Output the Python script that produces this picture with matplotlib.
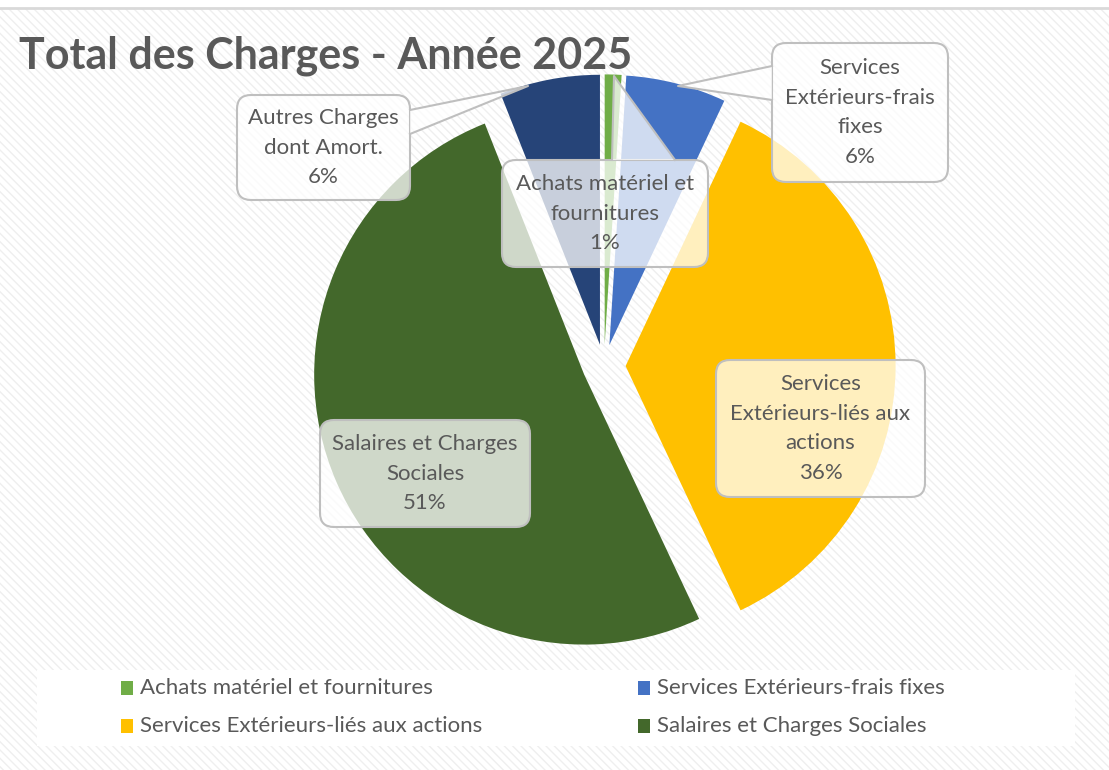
import matplotlib.pyplot as plt
from matplotlib.patches import FancyBboxPatch, Polygon, Rectangle

# data
categories = ['Achats matériel et fournitures', 'Services Extérieurs-frais fixes',
              'Services Extérieurs-liés aux actions', 'Salaires et Charges Sociales',
              'Autres Charges dont Amort.']
values = [1, 6, 36, 51, 6]  # percent of total
label_lines = ['Achats matériel et\nfournitures', 'Services\nExtérieurs-frais\nfixes',
               'Services\nExtérieurs-liés aux\nactions', 'Salaires et Charges\nSociales',
               'Autres Charges\ndont Amort.']
legend_labels = categories[:4]  # the fifth entry is cut off in the original

colors = ['#70AD47', '#4472C4', '#FFC000', '#43682B', '#264478']
TXT = '#595959'
EDGE = '#bfbfbf'

plt.rcParams['font.family'] = ['Lato', 'DejaVu Sans']

W, H = 1109, 770
fig = plt.figure(figsize=(W / 100, H / 100), dpi=100)

# background with faint diagonal stripes
bg = fig.add_axes([0, 0, 1, 1], zorder=0)
bg.set_xlim(0, W); bg.set_ylim(H, 0); bg.axis('off')
bg.add_patch(Rectangle((0, 9), W, H - 9, facecolor='white', edgecolor='#efefef',
                       hatch='\\\\\\\\', linewidth=0))
bg.plot([0, W], [8, 8], color='#d9d9d9', lw=2)
bg.add_patch(Rectangle((37, 670), 1038, 76, facecolor='white', edgecolor='none'))

# pie, centre and radius in pixels
cx, cy, R = 604, 366, 270
pad = 1.25
ax = fig.add_axes([(cx - pad * R) / W, (H - cy - pad * R) / H, 2 * pad * R / W, 2 * pad * R / H], zorder=1)
ax.pie(values, colors=colors, startangle=90, counterclock=False, explode=[0.08] * len(values),
       wedgeprops=dict(linewidth=0))
ax.set_xlim(-pad, pad); ax.set_ylim(-pad, pad)

# overlay for labels, title and legend
ov = fig.add_axes([0, 0, 1, 1], zorder=2)
ov.set_xlim(0, W); ov.set_ylim(H, 0); ov.axis('off')

ov.text(19, 56, 'Total des Charges - Année 2025', fontsize=31, fontweight='bold',
        color=TXT, va='center', ha='left')

# callout boxes: (x0, y0, x1, y1), pointer (base1, base2, tip) or None
boxes = [(502, 160, 708, 267), (772, 43, 948, 182), (716, 360, 925, 497),
         (320, 420, 530, 527), (237, 95, 410, 200)]
pointers = [((612, 160), (675, 160), (614, 76)),
            ((772, 66), (772, 100), (678, 86)),
            None, None,
            ((410, 110), (410, 134), (528, 86))]

for (x0, y0, x1, y1), ptr, txt, v in zip(boxes, pointers, label_lines, values):
    ov.add_patch(FancyBboxPatch((x0, y0), x1 - x0, y1 - y0,
                                boxstyle='round,pad=0,rounding_size=14',
                                facecolor=(1, 1, 1, 0.75), edgecolor=EDGE, lw=1.5))
    if ptr:
        b1, b2, tip = ptr
        ov.add_patch(Polygon([b1, tip, b2], closed=True, facecolor=(1, 1, 1, 0.75), edgecolor='none'))
        ov.plot([b1[0], tip[0], b2[0]], [b1[1], tip[1], b2[1]], color=EDGE, lw=1.5)
    ov.text((x0 + x1) / 2, (y0 + y1) / 2, f'{txt}\n{v}%', ha='center', va='center',
            fontsize=16, color=TXT, linespacing=1.6)

# legend
legend_pos = [(121, 688), (638, 688), (121, 726), (638, 726)]
for (lx, ly), lab, col in zip(legend_pos, legend_labels, colors):
    ov.add_patch(Rectangle((lx, ly - 7), 12, 14, facecolor=col, edgecolor='none'))
    ov.text(lx + 19, ly, lab, ha='left', va='center', fontsize=16, color=TXT)

fig.savefig('out.png', dpi=100)
